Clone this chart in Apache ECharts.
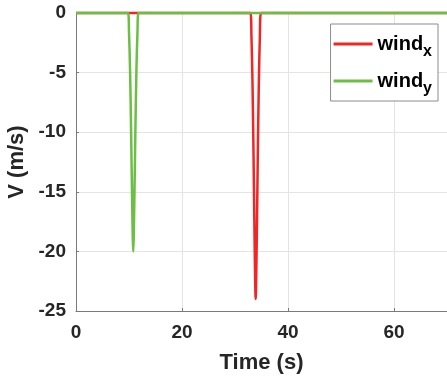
<!DOCTYPE html>
<html>
<head>
<meta charset="utf-8">
<script src="https://cdn.jsdelivr.net/npm/echarts@6/dist/echarts.min.js"></script>
<style>
  html, body { margin: 0; padding: 0; background: #fff; }
  #chart { width: 447px; height: 380px; }
</style>
</head>
<body>
<div id="chart"></div>
<script>
// time (s) and wind speed (m/s)
const windXTime = [0, 32.9, 33.1, 33.3, 33.5, 33.7, 33.9, 34.1, 34.3, 34.5, 34.7, 34.9, 70];
const windXValues = [0, 0, -1.9, -5.8, -12, -19.2, -24, -19.2, -12, -5.8, -1.9, 0, 0];
const windYTime = [0, 9.8, 10.0, 10.2, 10.4, 10.6, 10.8, 11.0, 11.2, 11.4, 11.6, 11.8, 70];
const windYValues = [0, 0, -1.6, -4.8, -10, -16, -20, -16, -10, -4.8, -1.6, 0, 0];
const xTicks = [0, 20, 40, 60];
const yTicks = [0, -5, -10, -15, -20, -25];

const RED = '#f02626';
const GREEN = '#6cbf44';
const TEXT = '#262626';
const FONT = 'Liberation Sans, Arial, sans-serif';

const zip = (xs, ys) => xs.map((x, i) => [x, ys[i]]);

const chart = echarts.init(document.getElementById('chart'), null, { renderer: 'canvas' });

const legendRich = {
  a: { fontFamily: FONT, fontWeight: 'bold', fontSize: 20, color: '#000', lineHeight: 30 },
  b: { fontFamily: FONT, fontWeight: 'bold', fontSize: 16, color: '#000', padding: [16, 0, 0, 0], lineHeight: 30 },
};

chart.setOption({
  animation: false,
  backgroundColor: '#fff',
  grid: { left: 76, right: 0, top: 13, bottom: 69, containLabel: false, outerBoundsMode: 'none' },
  legend: {
    right: 9,
    top: 24,
    orient: 'vertical',
    itemWidth: 39,
    itemHeight: 3,
    itemGap: 5,
    padding: [4, 6, 4, 3],
    backgroundColor: '#fff',
    borderColor: '#8c8c8c',
    borderWidth: 1,
    borderRadius: 0,
    icon: 'rect',
    formatter: (name) => (name === 'windX' ? '{a|wind}{b|x}' : '{a|wind}{b|y}'),
    textStyle: { rich: legendRich },
    data: ['windX', 'windY'],
  },
  xAxis: {
    type: 'value',
    min: 0,
    max: 70,
    interval: 20,
    name: 'Time (s)',
    nameLocation: 'middle',
    nameGap: 41,
    nameTextStyle: { fontFamily: FONT, fontWeight: 'bold', fontSize: 22, color: TEXT },
    axisLine: { show: true, onZero: false, lineStyle: { color: '#7a7a7a', width: 1 } },
    axisTick: { show: true, inside: true, length: 3, lineStyle: { color: '#7a7a7a' } },
    axisLabel: {
      fontFamily: FONT, fontWeight: 'bold', fontSize: 19, color: TEXT, margin: 12,
      formatter: (v) => (xTicks.includes(v) ? String(v) : ''),
    },
    splitLine: { show: true, lineStyle: { color: '#e4e4e4', width: 1 } },
  },
  yAxis: {
    type: 'value',
    min: -25,
    max: 0,
    interval: 5,
    name: 'V (m/s)',
    nameLocation: 'middle',
    nameRotate: 90,
    nameGap: 42,
    nameTextStyle: { fontFamily: FONT, fontWeight: 'bold', fontSize: 22, color: TEXT },
    axisLine: { show: true, onZero: false, lineStyle: { color: '#7a7a7a', width: 1 } },
    axisTick: { show: true, inside: true, length: 3, lineStyle: { color: '#7a7a7a' } },
    axisLabel: {
      fontFamily: FONT, fontWeight: 'bold', fontSize: 19, color: TEXT, margin: 10,
      formatter: (v) => (yTicks.includes(v) ? String(v) : ''),
    },
    splitLine: { show: true, lineStyle: { color: '#e4e4e4', width: 1 } },
  },
  series: [
    {
      name: 'windX',
      type: 'line',
      data: zip(windXTime, windXValues),
      showSymbol: false,
      smooth: 0.3,
      color: RED,
      lineStyle: { color: RED, width: 2.5 },
      clip: false,
      z: 2,
    },
    {
      name: 'windY',
      type: 'line',
      data: zip(windYTime, windYValues),
      showSymbol: false,
      smooth: 0.3,
      color: GREEN,
      lineStyle: { color: GREEN, width: 2.5 },
      clip: false,
      z: 3,
    },
  ],
});
</script>
</body>
</html>
